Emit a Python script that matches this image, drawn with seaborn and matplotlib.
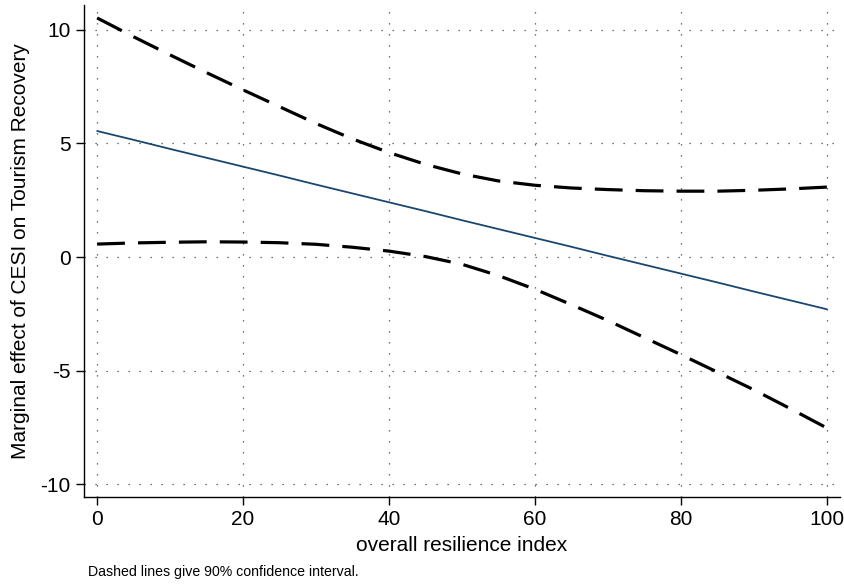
import numpy as np
import pandas as pd
import matplotlib
matplotlib.use("Agg")
import matplotlib.pyplot as plt
import seaborn as sns

# values
x = [0, 5, 10, 15, 20, 25, 30, 35, 40, 45, 50,
     55, 60, 65, 70, 75, 80, 85, 90, 95, 100]
effect = [5.55, 5.16, 4.76, 4.37, 3.98, 3.59, 3.19, 2.80, 2.41, 2.02, 1.62,
          1.23, 0.84, 0.45, 0.05, -0.34, -0.73, -1.12, -1.52, -1.91, -2.3]
upper = [10.53, 9.7, 8.9, 8.12, 7.36, 6.62, 5.88, 5.2, 4.6, 4.08, 3.66,
         3.35, 3.16, 3.04, 2.97, 2.92, 2.9, 2.9, 2.94, 3.0, 3.08]
lower = [0.57, 0.62, 0.65, 0.67, 0.66, 0.63, 0.56, 0.43, 0.26, 0.02, -0.32,
         -0.82, -1.42, -2.1, -2.8, -3.55, -4.3, -5.07, -5.85, -6.68, -7.53]

xticks = [0, 20, 40, 60, 80, 100]
yticks = [-10, -5, 0, 5, 10]

dt = pd.DataFrame({"x": x, "effect": effect, "upper": upper, "lower": lower})

sns.set_style("ticks", {"text.color": "black", "axes.labelcolor": "black",
                        "xtick.color": "black", "ytick.color": "black"})
plt.rcParams['font.family'] = ['Liberation Sans', 'DejaVu Sans']

fig = plt.figure(figsize=(8.45, 5.85), dpi=100)
ax = fig.add_axes([84/845, 1 - 497/585, 756/845, 492/585])

sns.lineplot(data=dt, x="x", y="effect", ax=ax, color="#1a476f", linewidth=1.3)
sns.lineplot(data=dt, x="x", y="upper", ax=ax, color="black", linewidth=2.3)
sns.lineplot(data=dt, x="x", y="lower", ax=ax, color="black", linewidth=2.3)
for line in ax.lines[1:]:
    line.set_dashes([8.7, 4.1])

ax.set_xlim(-1.8, 101.8)
ax.set_ylim(-10.57, 11.1)
ax.set_xticks(xticks)
ax.set_yticks(yticks)
ax.set_yticklabels([str(v) for v in yticks])
ax.tick_params(axis="both", labelsize=15, length=6, width=1, color="black",
               labelcolor="black", direction="out")
ax.grid(True, linestyle=(0, (1, 7.8)), color="#444444", linewidth=0.9)

for s in ["top", "right"]:
    ax.spines[s].set_visible(False)
for s in ["left", "bottom"]:
    ax.spines[s].set_color("black")
    ax.spines[s].set_linewidth(1)

ax.set_xlabel("overall resilience index", fontsize=15, labelpad=5, color="black")
ax.set_ylabel("Marginal effect of CESI on Tourism Recovery", fontsize=15, color="black")
ax.yaxis.set_label_coords(-0.072, 0.5)

fig.text(88/845, 1 - 572/585, "Dashed lines give 90% confidence interval.", fontsize=10.2,
         va="center", ha="left", color="black")

fig.savefig("out.png", dpi=100, facecolor="white")
